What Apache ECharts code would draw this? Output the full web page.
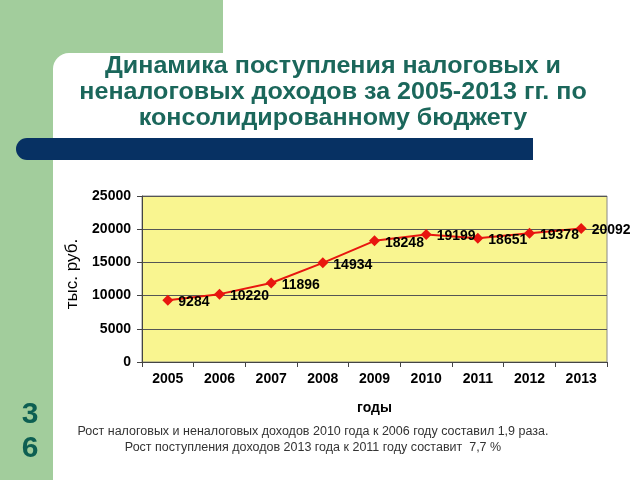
<!DOCTYPE html>
<html><head><meta charset="utf-8">
<script src="https://cdn.jsdelivr.net/npm/echarts@6/dist/echarts.min.js"></script>
<style>html,body{margin:0;padding:0;}#c{width:640px;height:480px;}</style>
</head><body><div id="c"></div>
<script>
var years = ['2005','2006','2007','2008','2009','2010','2011','2012','2013'];
var revenue = [9284, 10220, 11896, 14934, 18248, 19199, 18651, 19378, 20092];
var yTicks = [0, 5000, 10000, 15000, 20000, 25000];
var titleLines = ['Динамика поступления налоговых и', 'неналоговых доходов за 2005-2013 гг. по', 'консолидированному бюджету'];
var footLines = ['Рост налоговых и неналоговых доходов 2010 года к 2006 году составил 1,9 раза.', 'Рост поступления доходов 2013 года к 2011 году составит  7,7 %'];
var slideNo = ['3', '6'];

var chart = echarts.init(document.getElementById('c'));
var FONT = '"Liberation Sans", Arial, sans-serif';
var graphics = [
  {type:'rect', z:-10, silent:true, shape:{x:223,y:0,width:417,height:60}, style:{fill:'#ffffff'}},
  {type:'rect', z:-10, silent:true, shape:{x:53,y:53,width:587,height:427,r:[16,0,0,0]}, style:{fill:'#ffffff'}},
  {type:'rect', z:-9, silent:true, shape:{x:16,y:138,width:517,height:22,r:[11,0,0,11]}, style:{fill:'#073163'}}
];
titleLines.forEach(function(t,i){
  graphics.push({type:'text', z:5, x:333, y:67 + i*26, scaleX:1.09, style:{text:t, fill:'#1b675b', font:'bold 23px ' + FONT, textAlign:'center', textVerticalAlign:'middle'}});
});
footLines.forEach(function(t,i){
  graphics.push({type:'text', z:5, x:313, y:432 + i*15.5, style:{text:t, fill:'#333333', font:'12.5px ' + FONT, textAlign:'center', textVerticalAlign:'middle'}});
});
slideNo.forEach(function(t,i){
  graphics.push({type:'text', z:5, x:30, y:415 + i*34, style:{text:t, fill:'#0d5f52', font:'bold 30px ' + FONT, textAlign:'center', textVerticalAlign:'middle'}});
});

chart.setOption({
  backgroundColor:'#a2cd9c',
  animation:false,
  graphic: graphics,
  grid:{left:142, right:33, top:196, bottom:118, show:true, backgroundColor:'#f9f590', borderColor:'#888888', borderWidth:1, containLabel:false},
  xAxis:{
    type:'category', data:years, boundaryGap:true,
    name:'годы', nameLocation:'middle', nameGap:39,
    nameTextStyle:{color:'#000', fontFamily:FONT, fontSize:14, fontWeight:'bold'},
    axisLine:{lineStyle:{color:'#444', width:1}},
    axisTick:{show:true, inside:false, length:5, alignWithLabel:false, lineStyle:{color:'#444'}},
    axisLabel:{color:'#000', fontFamily:FONT, fontSize:14, fontWeight:'bold', margin:10},
    splitLine:{show:false}
  },
  yAxis:{
    type:'value', min:0, max:25000, interval:5000,
    name:'тыс. руб.', nameLocation:'middle', nameGap:61, nameRotate:90,
    nameTextStyle:{color:'#000', fontFamily:FONT, fontSize:17, padding:[0,0,0,10]},
    axisLine:{show:true, lineStyle:{color:'#444', width:1}},
    axisTick:{show:true, length:5, lineStyle:{color:'#444'}},
    axisLabel:{color:'#000', fontFamily:FONT, fontSize:14, fontWeight:'bold', margin:11,
      formatter:function(v){ return yTicks.indexOf(v) >= 0 ? String(v) : ''; }},
    splitLine:{show:true, lineStyle:{color:'#555555', width:1}}
  },
  series:[{
    type:'line', data:revenue,
    symbol:'diamond', symbolSize:11,
    lineStyle:{color:'#e8160f', width:2},
    itemStyle:{color:'#e8160f'},
    label:{show:true, position:'right', distance:5, offset:[0,2], color:'#000', fontFamily:FONT, fontSize:14, fontWeight:'bold'}
  }]
});
</script></body></html>
